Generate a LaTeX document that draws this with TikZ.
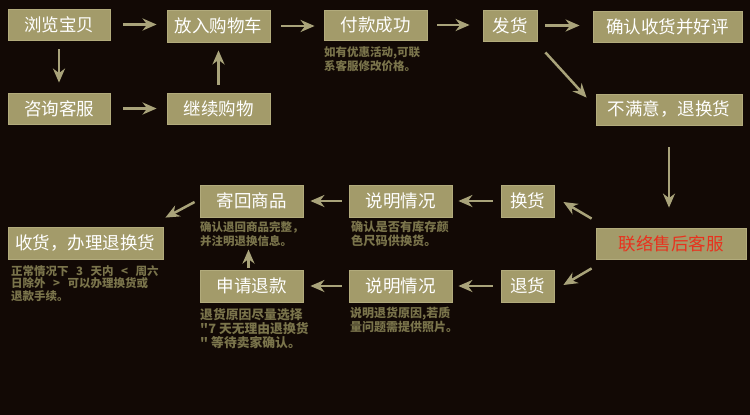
\documentclass[tikz,border=0pt]{standalone}
\usepackage{fontspec}
\setmainfont{Noto Sans CJK SC}
\newfontfamily\cjk{Noto Sans CJK SC}
\usetikzlibrary{arrows.meta,calc}
\definecolor{bgc}{HTML}{120905}
\definecolor{boxc}{HTML}{A39B6A}
\definecolor{boxl}{HTML}{B2AB7C}
\definecolor{arrc}{HTML}{A9A37A}
\definecolor{capc}{HTML}{7A744B}
\definecolor{redc}{HTML}{E8321E}
\newcommand{\gsp}{\hspace{0.65em}}
\tikzset{
  box/.style={fill=boxc, draw=boxl, line width=0.8pt, text=white, inner sep=0pt,
    font=\cjk\fontsize{17.5}{20}\selectfont, minimum height=31pt},
  captxt/.style={anchor=north west, inner sep=0pt, align=left, text=capc,
    font=\cjk\bfseries\fontsize{11.5}{14}\selectfont},
  arr/.style={draw=arrc, line width=2.5pt, -{Stealth[length=14pt,width=12pt,inset=4.5pt]}},
}
\begin{document}
\begin{tikzpicture}[x=1pt,y=-1pt]
\fill[bgc] (0,0) rectangle (750,415);
\useasboundingbox (0,0) rectangle (750,415);
% row 1
\node[box, minimum width=102pt] (browse) at (59,24.5) {浏览宝贝};
\node[box, minimum width=103pt, minimum height=32pt] (cart) at (218.5,26) {放入购物车};
\node[box, minimum width=103pt, minimum height=30pt] (pay) at (375.5,25) {付款成功};
\node[box, minimum width=54pt] (ship) at (510,25.5) {发货};
\node[box, minimum width=149pt] (confirm) at (667.5,26.5) {确认收货并好评};
% row 2
\node[box, minimum width=102pt] (consult) at (59,108.5) {咨询客服};
\node[box, minimum width=103pt] (cont) at (218.5,108.5) {继续购物};
\node[box, minimum width=146pt] (unsat) at (669,109.5) {不满意，退换货};
% lower part
\node[box, minimum width=150pt, text=redc] (contact) at (671,243.5) {联络售后客服};
\node[box, minimum width=53pt, minimum height=32pt] (exch) at (527.5,201) {换货};
\node[box, minimum width=53pt, minimum height=32pt] (ret) at (527.5,286) {退货};
\node[box, minimum width=103pt, minimum height=32pt] (exp1) at (400.5,201) {说明情况};
\node[box, minimum width=103pt, minimum height=32pt] (exp2) at (400.5,286) {说明情况};
\node[box, minimum width=103pt, minimum height=32pt] (send) at (251.5,201) {寄回商品};
\node[box, minimum width=103pt, minimum height=32pt] (refund) at (251.5,286) {申请退款};
\node[box, minimum width=155pt, minimum height=32pt] (recv) at (85.5,243) {收货，办理退换货};
% captions
\node[captxt] (cpay) at (324,46) {如有优惠活动,可联\\系客服修改价格。};
\node[captxt, font=\cjk\bfseries\fontsize{12.2}{14}\selectfont] (cexp1) at (351,221) {确认是否有库存颜\\色尺码供换货。};
\node[captxt, font=\cjk\bfseries\fontsize{12}{14}\selectfont] (cexp2) at (350,307) {说明退货原因,若质\\量问题需提供照片。};
\node[captxt] (csend) at (200,221) {确认退回商品完整，\\并注明退换信息。};
\node[captxt, font=\cjk\bfseries\fontsize{12.8}{14}\selectfont] (cref) at (200,308) {退货原因尽量选择\\"7 天无理由退换货\\" 等待卖家确认。};
\node[captxt, font=\cjk\bfseries\fontsize{11.5}{12.5}\selectfont] (crecv) at (11,265) {正常情况下\gsp{}3\gsp{}天内\gsp{}<\gsp{}周六\\日除外\gsp{}>\gsp{}可以办理换货或\\退款手续。};
% arrows row 1
\draw[arr, shorten <=13pt, shorten >=10pt] (browse.east) -- (browse.east -| cart.west);
\draw[arr, shorten <=11pt, shorten >=9pt] (cart.east) -- (cart.east -| pay.west);
\draw[arr, shorten <=10pt, shorten >=13pt] (pay.east) -- (pay.east -| ship.west);
\draw[arr, shorten <=8pt, shorten >=13pt] (ship.east) -- (ship.east -| confirm.west);
% verticals
\draw[arr, shorten <=9pt, shorten >=10pt] (browse.south) -- (browse.south |- consult.north);
\draw[arr, shorten <=13pt, shorten >=10pt] (consult.east) -- (consult.east -| cont.west);
\draw[arr, shorten <=8pt, shorten >=8pt] (cont.north) -- (cont.north |- cart.south);
% diagonal ship -> unsat
\draw[arr] ([shift={(8,11)}]ship.south east) -- ([shift={(-9,4)}]unsat.north west);
% unsat -> contact
\draw[arr, shorten <=22pt, shorten >=20pt] (unsat.south) -- (unsat.south |- contact.north);
% contact -> exch / ret
\draw[arr] ([shift={(-4,-9)}]contact.north west) -- ([shift={(9,1)}]exch.east);
\draw[arr] ([shift={(-4,9)}]contact.south west) -- ([shift={(9,-1)}]ret.east);
% horizontals lower
\draw[arr, shorten <=8pt, shorten >=6pt] (exch.west) -- (exch.west -| exp1.east);
\draw[arr, shorten <=8pt, shorten >=6pt] (ret.west) -- (ret.west -| exp2.east);
\draw[arr, shorten <=7pt, shorten >=7pt] (exp1.west) -- (exp1.west -| send.east);
\draw[arr, shorten <=7pt, shorten >=7pt] (exp2.west) -- (exp2.west -| refund.east);
% refund -> send
\draw[arr] ([shift={(-3,-2)}]refund.north) -- ++(0,-18);
% send -> recv
\draw[arr] ([shift={(-5,1)}]send.west) -- ([shift={(2,-9)}]recv.north east);
\end{tikzpicture}
\end{document}
